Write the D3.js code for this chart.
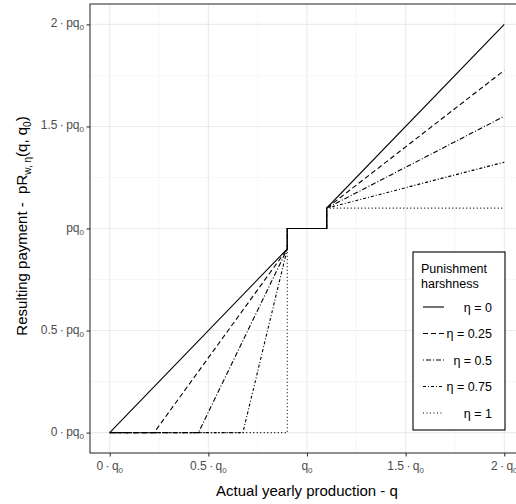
<!DOCTYPE html>
<html>
<head>
<meta charset="utf-8">
<script src="https://cdn.jsdelivr.net/npm/d3@7"></script>
<style>
  body { margin: 0; background: #fff; }
  text { font-family: "Liberation Sans", Arial, sans-serif; }
</style>
</head>
<body>
<div id="chart"></div>
<script>
// payment curves, [q, payment] in units of q0 / pq0
const etaLabels = ['0', '0.25', '0.5', '0.75', '1']
const pay0 = [[0, 0], [0.9, 0.9], [0.9, 1], [1.1, 1], [1.1, 1.1], [2, 2]]
const pay025 = [[0, 0], [0.225, 0], [0.9, 0.9], [0.9, 1], [1.1, 1], [1.1, 1.1], [2, 1.775]]
const pay05 = [[0, 0], [0.45, 0], [0.9, 0.9], [0.9, 1], [1.1, 1], [1.1, 1.1], [2, 1.55]]
const pay075 = [[0, 0], [0.675, 0], [0.9, 0.9], [0.9, 1], [1.1, 1], [1.1, 1.1], [2, 1.325]]
const pay1 = [[0, 0], [0.9, 0], [0.9, 0.9], [0.9, 1], [1.1, 1], [1.1, 1.1], [2, 1.1]]
const series = [pay0, pay025, pay05, pay075, pay1]
const dashes = ['none', '5,3', '1,2,5,2', '3,2,1,2', '1,2.5']

const xTicks = [0, 0.5, 1, 1.5, 2]
const xTickLabels = [['0\u2009·\u2009q', '0'], ['0.5\u2009·\u2009q', '0'], ['q', '0'], ['1.5\u2009·\u2009q', '0'], ['2\u2009·\u2009q', '0']]
const yTicks = [0, 0.5, 1, 1.5, 2]
const yTickLabels = [['0\u2009·\u2009pq', '0'], ['0.5\u2009·\u2009pq', '0'], ['pq', '0'], ['1.5\u2009·\u2009pq', '0'], ['2\u2009·\u2009pq', '0']]

const W = 516, H = 504
const MARGIN = {TOP: 4, LEFT: 90, BOTTOM: 51}
const PW = 434   // panel runs past the right edge like the original
const PH = H - MARGIN.TOP - MARGIN.BOTTOM

const svg = d3.select('#chart').append('svg')
    .attr('width', W)
    .attr('height', H)

const g = svg.append('g')
    .attr('transform', `translate(${MARGIN.LEFT}, ${MARGIN.TOP})`)

const x = d3.scaleLinear().domain([-0.1, 2.1]).range([0, PW])
const y = d3.scaleLinear().domain([-0.1, 2.1]).range([PH, 0])

// grid
const minor = [0.25, 0.75, 1.25, 1.75]
g.selectAll('.gxm').data(minor).enter().append('line')
    .attr('x1', d => x(d)).attr('x2', d => x(d)).attr('y1', 0).attr('y2', PH)
    .attr('stroke', '#f0f0f0').attr('stroke-width', 0.6)
g.selectAll('.gym').data(minor).enter().append('line')
    .attr('y1', d => y(d)).attr('y2', d => y(d)).attr('x1', 0).attr('x2', PW)
    .attr('stroke', '#f0f0f0').attr('stroke-width', 0.6)
g.selectAll('.gx').data(xTicks).enter().append('line')
    .attr('x1', d => x(d)).attr('x2', d => x(d)).attr('y1', 0).attr('y2', PH)
    .attr('stroke', '#ebebeb').attr('stroke-width', 1.1)
g.selectAll('.gy').data(yTicks).enter().append('line')
    .attr('y1', d => y(d)).attr('y2', d => y(d)).attr('x1', 0).attr('x2', PW)
    .attr('stroke', '#ebebeb').attr('stroke-width', 1.1)

// curves
const line = d3.line().x(d => x(d[0])).y(d => y(d[1]))
series.forEach((s, i) => {
    g.append('path')
        .datum(s)
        .attr('d', line)
        .attr('fill', 'none')
        .attr('stroke', '#000')
        .attr('stroke-width', 1.1)
        .attr('stroke-dasharray', dashes[i])
})

// panel border
g.append('rect')
    .attr('width', PW).attr('height', PH)
    .attr('fill', 'none').attr('stroke', '#333').attr('stroke-width', 1.1)

// axes
const xAxis = g.append('g').attr('transform', `translate(0, ${PH})`)
    .call(d3.axisBottom(x).tickValues(xTicks).tickSize(3.5).tickFormat(''))
const yAxis = g.append('g')
    .call(d3.axisLeft(y).tickValues(yTicks).tickSize(3.5).tickFormat(''))
xAxis.select('.domain').remove()
yAxis.select('.domain').remove()
g.selectAll('.tick line').attr('stroke', '#333').attr('stroke-width', 1.1)

function subLabel(sel, parts) {
    sel.append('tspan').text(parts[0])
    sel.append('tspan').attr('font-size', 8).attr('dy', 3).text(parts[1])
}

xTicks.forEach((t, i) => {
    const tx = g.append('text')
        .attr('x', x(t)).attr('y', PH + 17)
        .attr('text-anchor', 'middle')
        .attr('font-size', 12).attr('fill', '#4d4d4d')
    subLabel(tx, xTickLabels[i])
})
yTicks.forEach((t, i) => {
    const ty = g.append('text')
        .attr('x', -6).attr('y', y(t) + 3)
        .attr('text-anchor', 'end')
        .attr('font-size', 12).attr('fill', '#4d4d4d')
    subLabel(ty, yTickLabels[i])
})

svg.append('text')
    .attr('x', MARGIN.LEFT + x(1)).attr('y', 496)
    .attr('text-anchor', 'middle')
    .attr('font-size', 15)
    .text('Actual yearly production - q')

const yt = svg.append('text')
    .attr('transform', `translate(27, 226) rotate(-90)`)
    .attr('text-anchor', 'middle')
    .attr('font-size', 15)
    .attr('xml:space', 'preserve')
yt.append('tspan').text('Resulting payment -  pR')
yt.append('tspan').attr('font-size', 10).attr('dy', 4).text('w, η')
yt.append('tspan').attr('dy', -4).text('(q, q')
yt.append('tspan').attr('font-size', 10).attr('dy', 4).text('0')
yt.append('tspan').attr('dy', -4).text(')')

// legend
const lg = svg.append('g').attr('transform', 'translate(413, 252)')
lg.append('rect')
    .attr('width', 92).attr('height', 178)
    .attr('fill', '#fff').attr('stroke', '#000').attr('stroke-width', 1.1)
lg.append('text').attr('x', 8).attr('y', 21).attr('font-size', 12.5).text('Punishment')
lg.append('text').attr('x', 8).attr('y', 36).attr('font-size', 12.5).text('harshness')
etaLabels.forEach((lab, i) => {
    const ky = 55 + i * 26.5
    lg.append('line')
        .attr('x1', 10).attr('x2', 31).attr('y1', ky).attr('y2', ky)
        .attr('stroke', '#000').attr('stroke-width', 1.1)
        .attr('stroke-dasharray', dashes[i])
    lg.append('text')
        .attr('x', 79).attr('y', ky + 4.5)
        .attr('text-anchor', 'end')
        .attr('font-size', 12.5)
        .text('η = ' + lab)
})
</script>
</body>
</html>
